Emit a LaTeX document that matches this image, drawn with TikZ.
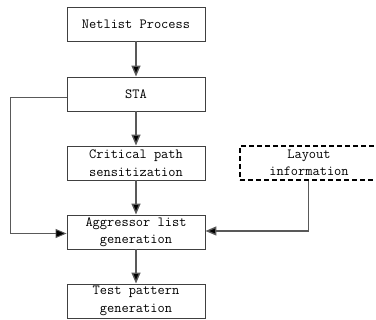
\documentclass[tikz,border=0pt]{standalone}
\usetikzlibrary{arrows.meta}
\begin{document}
\begin{tikzpicture}[x=1pt,y=-1pt,
  box/.style={draw=black!75,line width=0.9pt,minimum width=138pt,minimum height=34pt,inner sep=0pt,align=center,font=\ttfamily\fontsize{14}{17.5}\selectfont},
  dbox/.style={box,draw=black,line width=1.6pt,dash pattern=on 5pt off 3pt},
  conn/.style={draw=black!65,line width=1.4pt,-{Triangle[length=11pt,width=9pt,fill=black]}},
  thin/.style={conn,line width=0.9pt}]
\useasboundingbox (0,0) rectangle (376,320);
\node[box] (net) at (136,24) {Netlist Process};
\node[box] (sta) at (136,94) {STA};
\node[box] (crit) at (136,163) {Critical path\\sensitization};
\node[dbox] (lay) at (309,163) {Layout\\information};
\node[box] (agg) at (136,232) {Aggressor list\\generation};
\node[box] (test) at (136,301) {Test pattern\\generation};
\coordinate (c1) at (10,97.5);
\coordinate (c2) at (10,233.5);
\coordinate (c3) at (308.5,231);
\draw[conn] (net) -- (sta);
\draw[conn] (sta) -- (crit);
\draw[conn] (crit) -- (agg);
\draw[conn] (agg) -- (test);
\draw[thin] (sta.west |- c1) -- (c1) -- (c2) -- (agg.west |- c2);
\draw[conn] (lay.south -| c3) -- (c3) -- (agg.east |- c3);
\end{tikzpicture}
\end{document}
